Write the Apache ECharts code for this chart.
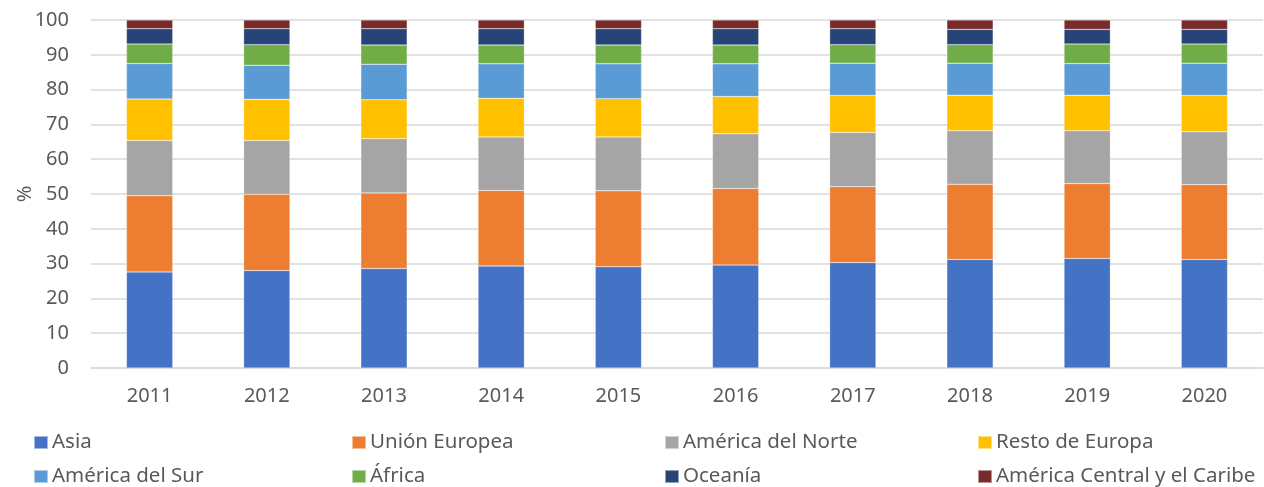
<!doctype html>
<html lang="es">
  <head>
    <meta charset="utf-8">
    <script src="https://cdn.jsdelivr.net/npm/echarts@6/dist/echarts.min.js"></script>
    <title>Distribución por regiones</title>
    <style>
      html, body { margin: 0; padding: 0; background: #fff; }
      #container { width: 1264px; height: 487px; }
    </style>
  </head>
  <body>
    <div id="container"></div>
    <script type="text/javascript">
      // años
      var years = ['2011', '2012', '2013', '2014', '2015', '2016', '2017', '2018', '2019', '2020'];

      // porcentajes por región
      var asia      = [27.6, 28.0, 28.6, 29.3, 29.1, 29.6, 30.3, 31.2, 31.5, 31.2];
      var ue        = [21.9, 21.9, 21.7, 21.7, 21.8, 22.0, 21.8, 21.6, 21.5, 21.5];
      var norte     = [15.9, 15.5, 15.6, 15.4, 15.5, 15.7, 15.6, 15.4, 15.2, 15.2];
      var restoEur  = [11.9, 11.8, 11.2, 11.1, 11.0, 10.7, 10.6, 10.2, 10.2, 10.4];
      var sur       = [10.2, 9.8, 10.2, 9.9, 10.0, 9.4, 9.3, 9.2, 9.1, 9.3];
      var africa    = [5.6, 5.9, 5.5, 5.4, 5.4, 5.4, 5.3, 5.3, 5.6, 5.5];
      var oceania   = [4.4, 4.6, 4.7, 4.7, 4.7, 4.7, 4.6, 4.4, 4.2, 4.2];
      var caribe    = [2.5, 2.5, 2.5, 2.5, 2.5, 2.5, 2.5, 2.7, 2.7, 2.7];

      var names = ['Asia', 'Unión Europea', 'América del Norte', 'Resto de Europa',
                   'América del Sur', 'África', 'Oceanía', 'América Central y el Caribe'];
      var values = [asia, ue, norte, restoEur, sur, africa, oceania, caribe];
      var colors = ['#4472C4', '#ED7D31', '#A5A5A5', '#FFC000', '#5B9BD5', '#70AD47', '#264478', '#772B2A'];

      var font = 'Noto Sans';
      var txtColor = '#595959';

      // one legend per item so they sit in a 4x2 grid like the original
      var legendLeft = [33, 351, 664, 977];
      var legendTop = [432, 466];
      var legends = names.map(function (n, i) {
        return {
          data: [n],
          left: legendLeft[i % 4],
          top: legendTop[Math.floor(i / 4)],
          itemWidth: 14, itemHeight: 13, itemGap: 0,
          icon: 'rect',
          padding: 0,
          selectedMode: false,
          textStyle: { fontFamily: font, fontSize: 20.5, color: txtColor, padding: [0, 0, 0, -1] }
        };
      });

      var series = names.map(function (n, i) {
        return {
          name: n,
          type: 'bar',
          stack: 'total',
          barWidth: '39.5%',
          itemStyle: { color: colors[i], borderColor: 'rgba(255,255,255,0.5)', borderWidth: 0.5 },
          data: values[i]
        };
      });

      var myChart = echarts.init(document.getElementById('container'), null, { renderer: 'canvas' });
      var option = {
        animation: false,
        color: colors,
        legend: legends,
        grid: { left: 91, right: 1, top: 20, bottom: 119, containLabel: false, outerBoundsMode: 'none' },
        xAxis: {
          type: 'category',
          data: years,
          axisLine: { lineStyle: { color: '#D9D9D9', width: 1.5 } },
          axisTick: { show: false },
          axisLabel: { fontFamily: font, fontSize: 20, color: txtColor, margin: 18 }
        },
        yAxis: {
          type: 'value',
          min: 0, max: 100, interval: 10,
          name: '%',
          nameLocation: 'middle',
          nameGap: 56,
          nameMoveOverlap: false,
          nameRotate: 90,
          nameTextStyle: { fontFamily: font, fontSize: 20, color: txtColor },
          axisLine: { show: false },
          axisTick: { show: false },
          axisLabel: { fontFamily: font, fontSize: 20, color: txtColor, margin: 22 },
          splitLine: { lineStyle: { color: '#D9D9D9', width: 1.5 } }
        },
        series: series
      };
      myChart.setOption(option, true);
    </script>
  </body>
</html>
